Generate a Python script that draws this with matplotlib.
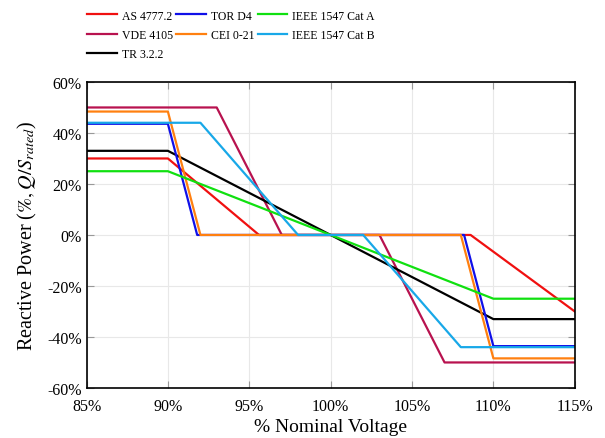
import matplotlib.pyplot as plt
from matplotlib.ticker import FuncFormatter

plt.rcParams['font.family'] = ['Liberation Serif', 'DejaVu Serif']
plt.rcParams['mathtext.fontset'] = 'stix'

# voltage breakpoints (% nominal) and reactive power (% of S_rated)
as4777_v = [85, 90, 95.6, 108.6, 115]
as4777_q = [30, 30, 0, 0, -30]
vde_v = [85, 93, 97, 103, 107, 115]
vde_q = [50, 50, 0, 0, -50, -50]
tr_v = [85, 90, 110, 115]
tr_q = [33, 33, -33, -33]
tor_v = [85, 90, 91.8, 108.2, 110, 115]
tor_q = [43.6, 43.6, 0, 0, -43.6, -43.6]
cei_v = [85, 90, 92, 108, 110, 115]
cei_q = [48.4, 48.4, 0, 0, -48.4, -48.4]
ieee_a_v = [85, 90, 110, 115]
ieee_a_q = [25, 25, -25, -25]
ieee_b_v = [85, 92, 98, 102, 108, 115]
ieee_b_q = [44, 44, 0, 0, -44, -44]

fig = plt.figure(figsize=(6.05, 4.39), dpi=100)
ax = fig.add_axes([0.143, 0.114, 0.807, 0.697])

# plot order = legend order (column-major: AS/VDE/TR, TOR/CEI, IEEE A/B)
ax.plot(as4777_v, as4777_q, color='#f01010', lw=1.6, label='AS 4777.2')
ax.plot(vde_v, vde_q, color='#b8124f', lw=1.6, label='VDE 4105')
ax.plot(tr_v, tr_q, color='black', lw=1.6, label='TR 3.2.2')
ax.plot(tor_v, tor_q, color='#1010e8', lw=1.6, label='TOR D4')
ax.plot(cei_v, cei_q, color='#ff8010', lw=1.6, label='CEI 0-21')
ax.plot(ieee_a_v, ieee_a_q, color='#10e010', lw=1.6, label='IEEE 1547 Cat A')
ax.plot(ieee_b_v, ieee_b_q, color='#18a8e8', lw=1.6, label='IEEE 1547 Cat B')

ax.set_xlim(85, 115)
ax.set_ylim(-60, 60)
ax.set_xticks([85, 90, 95, 100, 105, 110, 115])
ax.set_yticks([-60, -40, -20, 0, 20, 40, 60])
pct = FuncFormatter(lambda v, p: '%d%%' % v)
ax.xaxis.set_major_formatter(pct)
ax.yaxis.set_major_formatter(pct)
ax.tick_params(direction='in', top=True, right=True, length=5, color='#999999', labelsize=11.5)
ax.tick_params(axis='x', pad=7)
ax.grid(color='#e8e8e8', lw=0.8)
for s in ax.spines.values():
    s.set_linewidth(1.2)

ax.set_xlabel('% Nominal Voltage', fontsize=14, labelpad=3)
ax.set_ylabel('Reactive Power ($\\%, Q/S_{rated}$)', fontsize=14.5, labelpad=6)

fig.legend(ncol=3, frameon=False, fontsize=8.5, loc='upper left',
           bbox_to_anchor=(0.127, 1.0), handlelength=2.5, columnspacing=0.3,
           handletextpad=0.4, labelspacing=0.6)

fig.savefig('out.png', dpi=100)
